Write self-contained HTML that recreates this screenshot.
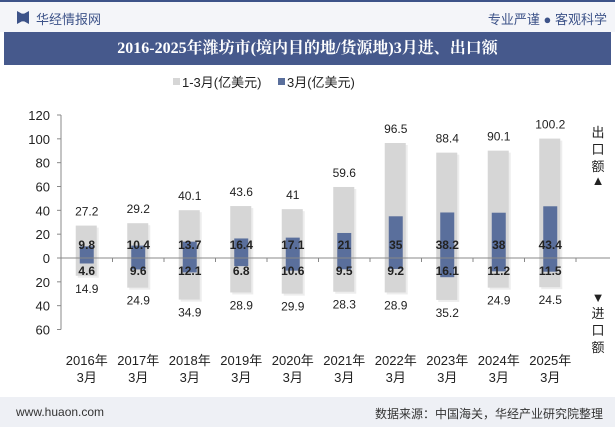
<!DOCTYPE html>
<html><head><meta charset="utf-8"><style>
body{margin:0;width:615px;height:427px;overflow:hidden;background:#fff;font-family:"Liberation Sans","Noto Sans CJK SC",sans-serif;}
.hdr{position:absolute;left:0;top:0;width:615px;height:32px;background:#f4f5f9;border-top:2px solid #3d5389;box-sizing:border-box}
.title{position:absolute;left:4px;top:32px;width:607px;height:33px;background:#46598c;color:#fff;font-weight:bold;font-size:16px;text-align:center;line-height:33px;font-family:"Liberation Serif","Noto Serif CJK SC",serif}
.foot{position:absolute;left:0;top:397px;width:615px;height:30px;background:#eef0f5;font-size:12px;color:#333}
</style></head><body>
<div class="hdr">
<span style="position:absolute;left:17px;top:9px;width:12px;height:13px;background:#3d5389;clip-path:polygon(0 0,40% 20%,60% 20%,100% 0,100% 100%,60% 80%,40% 80%,0 100%)"></span>
<span style="position:absolute;left:36px;top:7px;font-size:13px;color:#3d5389">华经情报网</span>
<span style="position:absolute;right:8px;top:7px;font-size:13px;color:#3d5389">专业严谨 ● 客观科学</span>
</div>
<div class="title">2016-2025年潍坊市(境内目的地/货源地)3月进、出口额</div>
<svg id="c" width="615" height="427" style="position:absolute;left:0;top:0"></svg>
<div class="foot">
<span style="position:absolute;left:16px;top:8px">www.huaon.com</span>
<span style="position:absolute;right:12px;top:8px">数据来源：中国海关，华经产业研究院整理</span>
</div>
<script>
const years=["2016年","2017年","2018年","2019年","2020年","2021年","2022年","2023年","2024年","2025年"];
const expQ1=[27.2,29.2,40.1,43.6,41,59.6,96.5,88.4,90.1,100.2];
const expM3=[9.8,10.4,13.7,16.4,17.1,21,35,38.2,38,43.4];
const impQ1=[14.9,24.9,34.9,28.9,29.9,28.3,28.9,35.2,24.9,24.5];
const impM3=[4.6,9.6,12.1,6.8,10.6,9.5,9.2,16.1,11.2,11.5];
const yTicks=[120,100,80,60,40,20,0,-20,-40,-60];
const svg=document.getElementById('c');const NS='http://www.w3.org/2000/svg';
const y=v=>258-v*143/120;const x0=61,step=51.5;const cx=i=>x0+step*(i+0.5);
function mk(t,a,txt){const e=document.createElementNS(NS,t);for(const k in a)e.setAttribute(k,a[k]);if(txt!==undefined)e.textContent=txt;svg.appendChild(e);return e;}
let e;
e=mk('line',{x1:x0,x2:x0,y1:y(120),y2:y(-60),stroke:'#888'});
yTicks.forEach(t=>{e=mk('text',{x:50,y:y(t)+5,'text-anchor':'end','font-size':13,fill:'#222'},Math.abs(t));mk('line',{x1:x0-4,x2:x0,y1:y(t),y2:y(t),stroke:'#888'});});
years.forEach((yr,i)=>{const c=cx(i);
e=mk('rect',{x:c-9,y:y(expQ1[i])+2,width:21,height:y(-impQ1[i])-y(expQ1[i]),fill:'#ededed'});
e=mk('rect',{x:c-11,y:y(expQ1[i]),width:21,height:y(0)-y(expQ1[i]),fill:'#d6d6d6'});
e=mk('rect',{x:c-11,y:y(0),width:21,height:y(-impQ1[i])-y(0),fill:'#d6d6d6'});
e=mk('rect',{x:c-7,y:y(expM3[i]),width:14,height:y(0)-y(expM3[i]),fill:'#5a6f9c'});
e=mk('rect',{x:c-7,y:y(0),width:14,height:y(-impM3[i])-y(0),fill:'#5a6f9c'});
e=mk('text',{x:c,y:y(expQ1[i])-10,'text-anchor':'middle','font-size':12,fill:'#222'},expQ1[i]);
e=mk('text',{x:c,y:y(-impQ1[i])+17,'text-anchor':'middle','font-size':12,fill:'#222'},impQ1[i]);
e=mk('text',{x:c,y:249,'text-anchor':'middle','font-size':12,'font-weight':'bold',fill:'#222'},expM3[i]);
e=mk('text',{x:c,y:275,'text-anchor':'middle','font-size':12,'font-weight':'bold',fill:'#222'},impM3[i]);
e=mk('text',{x:c,y:365,'text-anchor':'middle','font-size':13,fill:'#222'},yr);
mk('text',{x:c,y:382,'text-anchor':'middle','font-size':13,fill:'#222'},'3月');
mk('line',{x1:x0+step*(i+1),x2:x0+step*(i+1),y1:y(0),y2:y(0)+4,stroke:'#888'});
});
e=mk('line',{x1:x0,x2:610,y1:y(0),y2:y(0),stroke:'#888'});
e=mk('rect',{x:173,y:78,width:7,height:7,fill:'#d6d6d6'});
e=mk('text',{x:182,y:87,'font-size':13,fill:'#222'},'1-3月(亿美元)');
e=mk('rect',{x:278,y:78,width:7,height:7,fill:'#5a6f9c'});
e=mk('text',{x:287,y:87,'font-size':13,fill:'#222'},'3月(亿美元)');
[['出',137],['口',154],['额',171],['▲',185]].forEach(a=>{e=mk('text',{x:598,y:a[1],'text-anchor':'middle','font-size':13,fill:'#222'},a[0]);});
[['▼',302],['进',318],['口',335],['额',352]].forEach(a=>{e=mk('text',{x:598,y:a[1],'text-anchor':'middle','font-size':13,fill:'#222'},a[0]);});
</script>
</body></html>
